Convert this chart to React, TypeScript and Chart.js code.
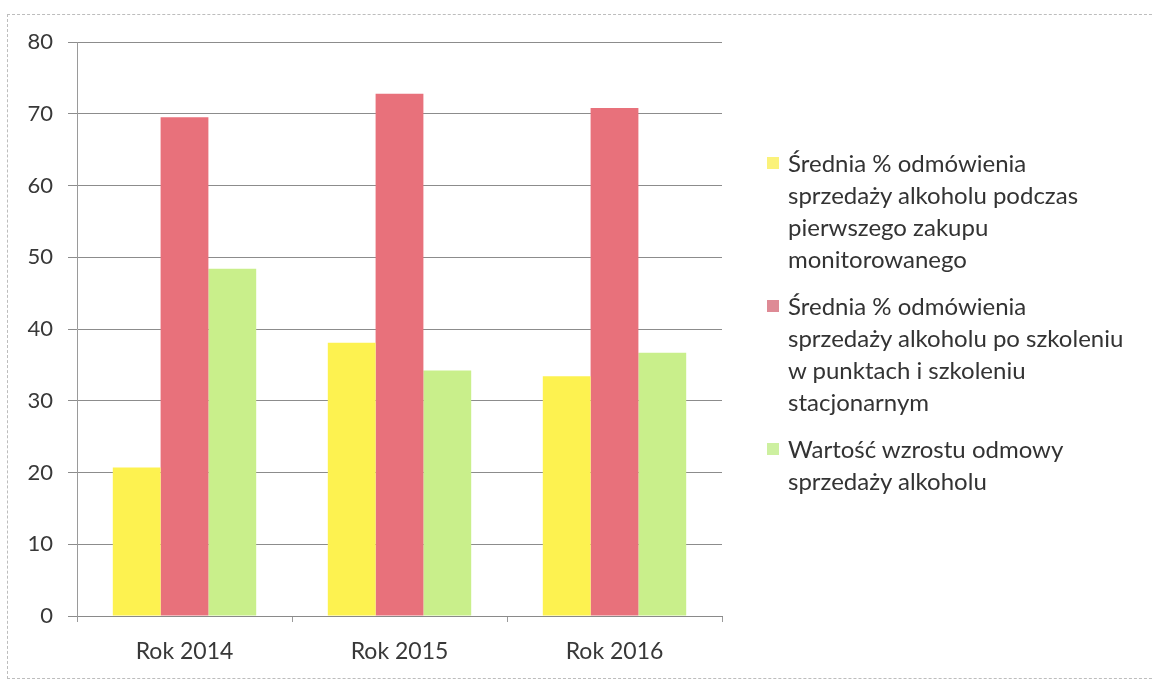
import React, { useEffect, useRef } from "react";
import { Chart, registerables } from "chart.js";

Chart.register(...registerables);

const categories = ["Rok 2014", "Rok 2015", "Rok 2016"];
const seriesNames = [
  ["Średnia % odmówienia", "sprzedaży alkoholu podczas", "pierwszego zakupu", "monitorowanego"],
  ["Średnia % odmówienia", "sprzedaży alkoholu po szkoleniu", "w punktach i szkoleniu", "stacjonarnym"],
  ["Wartość wzrostu odmowy", "sprzedaży alkoholu"],
];
const firstPurchase = [20.7, 38.1, 33.4];
const afterTraining = [69.5, 72.8, 70.8];
const growth = [48.4, 34.2, 36.7];
const yTicks = [0, 10, 20, 30, 40, 50, 60, 70, 80];
const colors = ["#fdf250", "#e8717b", "#c9ef8b"];
const legendColors = ["#fbf27a", "#de8a95", "#cdf0a0"];

const FONT = "Lato, 'Open Sans', sans-serif";

export default function App() {
  const ref = useRef<HTMLCanvasElement | null>(null);
  useEffect(() => {
    if (!ref.current) return;
    const chart = new Chart(ref.current, {
      type: "bar",
      data: {
        labels: categories,
        datasets: [
          { label: seriesNames[0].join(" "), data: firstPurchase, backgroundColor: colors[0] },
          { label: seriesNames[1].join(" "), data: afterTraining, backgroundColor: colors[1] },
          { label: seriesNames[2].join(" "), data: growth, backgroundColor: colors[2] },
        ],
      },
      options: {
        animation: false,
        responsive: false,
        maintainAspectRatio: false,
        layout: { padding: { left: 0, right: 430, top: 42, bottom: 0 } },
        datasets: { bar: { categoryPercentage: 0.667, barPercentage: 1.0 } },
        plugins: { legend: { display: false }, tooltip: { enabled: false } },
        scales: {
          x: {
            afterFit: (s: any) => { s.height = 66; },
            grid: { display: true, drawOnChartArea: false, offset: true, color: "#9a9a9a", tickLength: 6 },
            border: { color: "#8a8a8a" },
            ticks: { color: "#383838", font: { family: FONT, size: 23 }, padding: 16 },
          },
          y: {
            min: 0,
            max: 80,
            afterFit: (s: any) => { s.width = 77; },
            afterBuildTicks: (s: any) => { s.ticks = yTicks.map((v) => ({ value: v })); },
            grid: { color: "#8c8c8c", tickLength: 9 },
            border: { color: "#9a9a9a" },
            ticks: { color: "#383838", font: { family: FONT, size: 22 }, padding: 15 },
          },
        },
      },
    });
    return () => chart.destroy();
  }, []);

  return (
    <div style={{ position: "absolute", left: 0, top: 0, width: 1152, height: 682, background: "#fff", overflow: "hidden" }}>
      <div
        style={{
          position: "absolute",
          left: 7,
          top: 14,
          width: 1160,
          height: 665,
          border: "1px dashed #bdbdbd",
          boxSizing: "border-box",
        }}
      />
      <canvas ref={ref} width={1152} height={682} style={{ position: "absolute", left: 0, top: 0 }} />
      <div style={{ position: "absolute", left: 767, top: 147, fontFamily: FONT, fontSize: 24, color: "#333", lineHeight: "32px" }}>
        {seriesNames.map((lines, i) => (
          <div key={i} style={{ position: "relative", paddingLeft: 21, marginBottom: 15 }}>
            <span
              style={{
                position: "absolute",
                left: 0,
                top: 10,
                width: 12,
                height: 12,
                background: legendColors[i],
              }}
            />
            {lines.map((l, j) => (
              <div key={j} style={{ whiteSpace: "nowrap" }}>{l}</div>
            ))}
          </div>
        ))}
      </div>
    </div>
  );
}
